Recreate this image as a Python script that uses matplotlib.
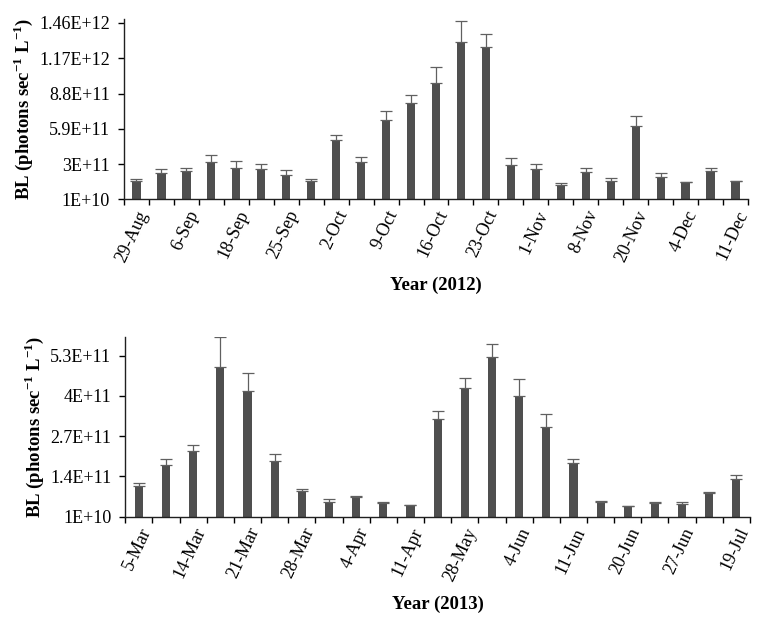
import matplotlib
matplotlib.use("Agg")
import matplotlib.pyplot as plt
import numpy as np

plt.rcParams['font.family'] = ['Liberation Serif', 'DejaVu Serif']
plt.rcParams['mathtext.fontset'] = 'custom'
plt.rcParams['mathtext.rm'] = 'Liberation Serif'
plt.rcParams['mathtext.bf'] = 'Liberation Serif:bold'

# ---- 2012 data ----
labels_2012 = ["29-Aug", "", "6-Sep", "", "18-Sep", "", "25-Sep", "", "2-Oct", "",
               "9-Oct", "", "16-Oct", "", "23-Oct", "", "1-Nov", "", "8-Nov", "",
               "20-Nov", "", "4-Dec", "", "11-Dec"]
bl_2012 = [1.63e11, 2.29e11, 2.43e11, 3.17e11, 2.70e11, 2.60e11, 2.10e11, 1.63e11,
           5.01e11, 3.17e11, 6.63e11, 8.04e11, 9.68e11, 1.306e12, 1.265e12, 2.93e11,
           2.60e11, 1.28e11, 2.35e11, 1.63e11, 6.14e11, 1.94e11, 1.53e11, 2.43e11,
           1.61e11]
err_2012 = [1.1e10, 2.7e10, 2.2e10, 5.8e10, 5.3e10, 3.8e10, 3.8e10, 1.1e10,
            3.6e10, 4.1e10, 7.1e10, 6.0e10, 1.29e11, 1.70e11, 1.07e11, 5.5e10,
            3.8e10, 1.4e10, 3.0e10, 2.0e10, 8.0e10, 3.0e10, 0.0, 2.2e10, 0.0]
yticks_2012 = [1e10, 3e11, 5.9e11, 8.8e11, 1.17e12, 1.46e12]
yticklabels_2012 = ["1E+10", "3E+11", "5.9E+11", "8.8E+11", "1.17E+12", "1.46E+12"]

# ---- 2013 data ----
labels_2013 = ["5-Mar", "", "14-Mar", "", "21-Mar", "", "28-Mar", "", "4-Apr", "",
               "11-Apr", "", "28-May", "", "4-Jun", "", "11-Jun", "", "20-Jun", "",
               "27-Jun", "", "19-Jul"]
bl_2013 = [1.10e11, 1.77e11, 2.22e11, 4.93e11, 4.15e11, 1.90e11, 9.3e10, 5.7e10,
           7.3e10, 5.4e10, 4.7e10, 3.25e11, 4.25e11, 5.25e11, 3.99e11, 2.99e11,
           1.83e11, 5.7e10, 4.3e10, 5.5e10, 5.2e10, 8.7e10, 1.31e11]
err_2013 = [7.5e9, 1.8e10, 1.8e10, 9.8e10, 5.8e10, 2.2e10, 5e9, 9e9,
            5e9, 5e9, 0.0, 2.5e10, 3.4e10, 4.4e10, 5.7e10, 4.4e10,
            1.2e10, 4e9, 0.0, 4e9, 4e9, 4e9, 1.3e10]
yticks_2013 = [1e10, 1.4e11, 2.7e11, 4e11, 5.3e11]
yticklabels_2013 = ["1E+10", "1.4E+11", "2.7E+11", "4E+11", "5.3E+11"]

BAR = '#4f4f4f'
ERR = '#606060'

fig = plt.figure(figsize=(7.58, 6.38), dpi=100)
ax1 = fig.add_axes([0.1636, 0.6876, 0.8232, 0.2821])
ax2 = fig.add_axes([0.1653, 0.1901, 0.8241, 0.2812])


def draw(ax, labels, vals, errs, yt, ytl, ylim, xlabel, width):
    n = len(vals)
    x = np.arange(n)
    ax.bar(x, np.array(vals) - ylim[0], bottom=ylim[0], width=width, color=BAR, zorder=2)
    ax.errorbar(x, vals, yerr=[np.zeros(n), errs], fmt='none', ecolor=ERR,
                elinewidth=0.9, capsize=4, capthick=0.9, zorder=3)
    ax.set_xlim(-0.5, n - 0.5)
    ax.set_ylim(*ylim)
    ax.set_yticks(yt)
    ax.set_yticklabels(ytl, fontsize=13)
    ax.set_xticks(x)
    ax.set_xticklabels(labels, rotation=65, ha='right', rotation_mode='anchor', fontsize=13)
    ax.set_xticks(np.arange(n + 1) - 0.5, minor=True)
    ax.tick_params(axis='x', which='major', length=0, pad=6)
    ax.tick_params(axis='x', which='minor', length=4, direction='out', width=1)
    ax.tick_params(axis='y', length=4, direction='out', width=1, pad=6)
    for s in ['top', 'right']:
        ax.spines[s].set_visible(False)
    for s in ['left', 'bottom']:
        ax.spines[s].set_linewidth(1.0)
        ax.spines[s].set_color('#202020')
    ax.set_xlabel(xlabel, fontsize=13.5, fontweight='bold', labelpad=9)
    ax.set_ylabel(r'BL (photons sec$^{\mathbf{-1}}$ L$^{\mathbf{-1}}$)',
                  fontsize=13.5, fontweight='bold', labelpad=3)


draw(ax1, labels_2012, bl_2012, err_2012, yticks_2012, yticklabels_2012,
     (1e10, 1.49e12), 'Year (2012)', 0.33)
draw(ax2, labels_2013, bl_2013, err_2013, yticks_2013, yticklabels_2013,
     (1e10, 5.89e11), 'Year (2013)', 0.3)

fig.savefig('out.png', dpi=100)
